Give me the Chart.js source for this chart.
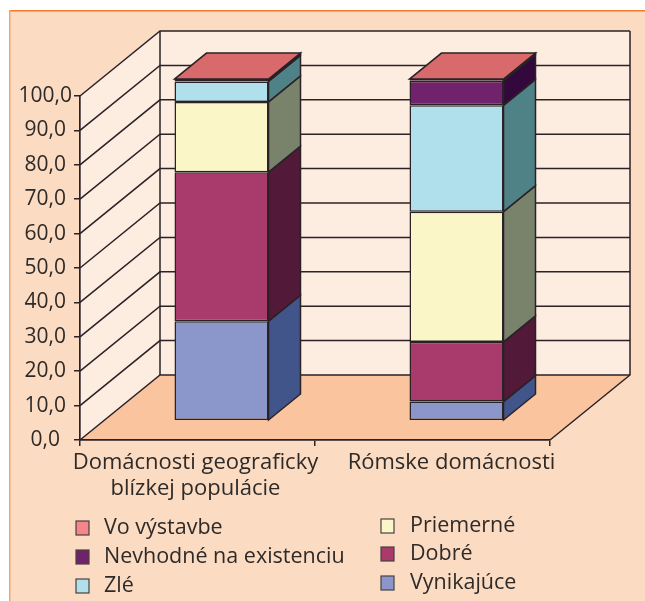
<!DOCTYPE html>
<html>
<head>
<meta charset="utf-8">
<style>html,body{margin:0;padding:0;background:#fff}canvas{display:block}</style>
<script src="https://cdn.jsdelivr.net/npm/chart.js@4"></script>
</head>
<body>
<canvas id="c" width="645" height="601"></canvas>
<script>
const categories = [['Domácnosti geograficky','blízkej populácie'],'Rómske domácnosti'];
const seriesNames = ['Vynikajúce','Dobré','Priemerné','Zlé','Nevhodné na existenciu','Vo výstavbe'];
const vynikajuce = [29.0, 5.4];
const dobre = [43.7, 17.5];
const priemerne = [20.6, 38.2];
const zle = [6.0, 31.2];
const nevhodne = [0.7, 7.2];
const voVystavbe = [0, 0.5];
const frontColors = ['#8B97CB','#A93A6C','#FAF6C8','#AFE0EC','#70236C','#D96A6C'];
const sideColors = ['#41558A','#521938','#79826B','#4E8286','#33083C','#33083C'];
const legendColors = ['#8B97CB','#A93A6C','#FAF6C8','#AFE0EC','#70236C','#F4858A'];
const legendOrder = [[5,4,3],[2,1,0]];
const seriesValues = [vynikajuce,dobre,priemerne,zle,nevhodne,voVystavbe];
const FONT = '"Open Sans"';
const INK = '#2E2A28';
const LINE = '#2A2226';
const depth = {x:80,y:-65};
const barShift = {x:24,y:-20};
const barDepth = {x:32,y:-26};

const scene = {
  id:'scene',
  afterLayout(chart){
    const items = chart.scales.x.getLabelItems();
    items.forEach(it=>{ if(it.label==='Rómske domácnosti'){ it.options.translation[0]+=19; } else { it.options.translation[0]-=2; } });
  },
  beforeDraw(chart){
    const c = chart.ctx, a = chart.chartArea, y = chart.scales.y;
    const poly=(pts,fill)=>{c.beginPath();pts.forEach((p,i)=>i?c.lineTo(p[0],p[1]):c.moveTo(p[0],p[1]));c.closePath();c.fillStyle=fill;c.fill();};
    c.save();
    c.fillStyle='#fff';c.fillRect(0,0,645,601);
    c.fillStyle='#FBDCC3';c.fillRect(10,10,635,591);
    c.fillStyle='#F57A2E';c.fillRect(9,10,636,1.5);
    c.fillStyle='#F6A46A';c.fillRect(9,10,1.5,591);
    const L=a.left,R=a.right,T=a.top,B=a.bottom,dx=depth.x,dy=depth.y;
    poly([[L,B],[L+dx,B+dy],[L+dx,T+dy],[L,T]],'#FDEDE0');
    poly([[L+dx,T+dy],[R+dx,T+dy],[R+dx,B+dy],[L+dx,B+dy]],'#FDEDE0');
    poly([[L,B],[L+dx,B+dy],[R+dx,B+dy],[R,B]],'#F9C49E');
    c.lineWidth=1.5;c.strokeStyle=LINE;
    y.ticks.forEach(t=>{
      const p=y.getPixelForValue(t.value);
      c.beginPath();c.moveTo(L,p);c.lineTo(L+dx,p+dy);c.lineTo(R+dx,p+dy);c.stroke();
    });
    c.beginPath();
    c.moveTo(L+dx,T+dy);c.lineTo(L+dx,B+dy);
    c.moveTo(R+dx,T+dy);c.lineTo(R+dx,B+dy);c.lineTo(R,B);
    c.stroke();
    c.restore();
  },
  beforeDatasetsDraw(chart){
    const c = chart.ctx;
    c.save();
    c.translate(barShift.x,barShift.y);
    const dx=barDepth.x,dy=barDepth.y;
    const face=(pts,fill)=>{c.beginPath();pts.forEach((p,i)=>i?c.lineTo(p[0],p[1]):c.moveTo(p[0],p[1]));c.closePath();c.fillStyle=fill;c.fill();c.lineWidth=1.5;c.strokeStyle=LINE;c.stroke();};
    const last=chart.data.datasets.length-1;
    chart.data.datasets.forEach((ds,i)=>{
      chart.getDatasetMeta(i).data.forEach(b=>{
        const r=b.x+b.width/2,l=b.x-b.width/2;
        if(b.base-b.y>0.01) face([[r,b.y],[r+dx,b.y+dy],[r+dx,b.base+dy],[r,b.base]],sideColors[i]);
        if(i===last) face([[l,b.y],[r,b.y],[r+dx,b.y+dy],[l+dx,b.y+dy]],frontColors[i]);
      });
    });
  },
  afterDatasetsDraw(chart){
    const c = chart.ctx;
    c.restore();
    c.save();
    c.textBaseline='middle';c.textAlign='left';
    c.font='21.5px '+FONT;
    const colX=[[76,104],[381,410]];
    const rowY=[[528,557,586],[526,554,583]];
    legendOrder.forEach((col,ci)=>col.forEach((s,ri)=>{
      const yy=rowY[ci][ri];
      c.fillStyle=legendColors[s];
      c.fillRect(colX[ci][0],yy-7,13,14);
      c.lineWidth=1.2;c.strokeStyle='#4a4040';
      c.strokeRect(colX[ci][0],yy-7,13,14);
      c.fillStyle=INK;
      c.fillText(seriesNames[s],colX[ci][1],yy);
    }));
    c.restore();
  }
};

new Chart(document.getElementById('c'),{
  type:'bar',
  data:{
    labels:categories,
    datasets:seriesNames.map((n,i)=>({
      label:n,
      data:seriesValues[i],
      backgroundColor:frontColors[i],
      borderColor:LINE,
      borderWidth:1.5,
      borderSkipped:false,
      yAxisID:'yBar',
      clip:false,
      barPercentage:0.4,
      categoryPercentage:1
    }))
  },
  options:{
    responsive:false,
    animation:false,
    layout:{padding:{left:0,top:96,right:95,bottom:101}},
    plugins:{legend:{display:false},tooltip:{enabled:false},title:{display:false}},
    scales:{
      x:{
        stacked:true,
        afterFit(s){s.height=60;},
        grid:{drawOnChartArea:false,tickLength:6,color:LINE,lineWidth:1.5},
        border:{display:true,color:LINE,width:1.7},
        ticks:{color:INK,font:{family:FONT,size:22,lineHeight:1.18},padding:4,maxRotation:0,autoSkip:false}
      },
      y:{
        min:0,max:100,
        afterFit(s){s.width=80;},
        grid:{drawOnChartArea:false,tickLength:6,color:LINE,lineWidth:1.5},
        border:{display:true,color:LINE,width:1.7},
        ticks:{stepSize:10,color:INK,font:{family:FONT,size:21},padding:2,crossAlign:'center',
          callback:v=>v.toFixed(1).replace('.',',')}
      },
      yBar:{display:false,stacked:true,min:0,max:100.9}
    }
  },
  plugins:[scene]
});
</script>
</body>
</html>
